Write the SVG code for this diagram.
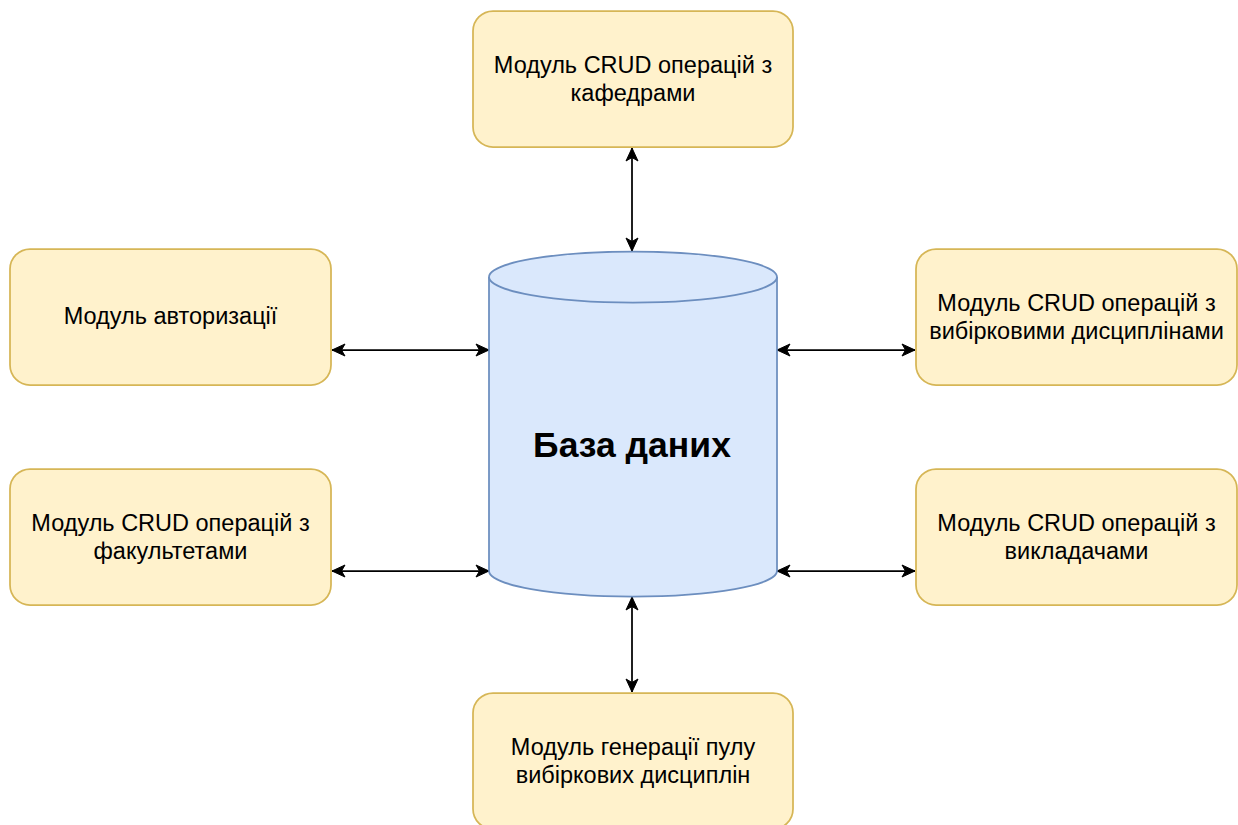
<svg xmlns="http://www.w3.org/2000/svg" width="1238" height="825" viewBox="0 0 1238 825">
  <style>
    .box { fill: #fff2cc; stroke: #d6b656; stroke-width: 1.75; }
    .db { fill: #dae8fc; stroke: #6c8ebf; stroke-width: 1.75; }
    .lbl { font-family: "Liberation Sans", Arial, sans-serif; font-size: 23.5px; fill: #000; text-anchor: middle; }
    .title { font-family: "Liberation Sans", Arial, sans-serif; font-size: 35.5px; font-weight: bold; fill: #000; text-anchor: middle; }
    .link { stroke: #000; stroke-width: 1.75; fill: none; marker-start: url(#head); marker-end: url(#head); }
  </style>
  <defs>
    <marker id="head" viewBox="-14 -7 15 14" refX="0" refY="0" markerWidth="15" markerHeight="14" markerUnits="userSpaceOnUse" orient="auto-start-reverse">
      <path d="M0,0 L-13,-6 L-9.5,0 L-13,6 Z" fill="#000" stroke="#000" stroke-width="1" stroke-linejoin="miter"/>
    </marker>
  </defs>

  <!-- connectors: every module talks to the database both ways -->
  <g id="connectors">
    <line class="link" x1="632" y1="148" x2="632" y2="251"/>
    <line class="link" x1="332" y1="350" x2="489" y2="350"/>
    <line class="link" x1="777" y1="350" x2="915" y2="350"/>
    <line class="link" x1="332" y1="571" x2="489" y2="571"/>
    <line class="link" x1="777" y1="571" x2="915" y2="571"/>
    <line class="link" x1="632" y1="597" x2="632" y2="692"/>
  </g>

  <!-- central storage -->
  <g id="database">
    <path class="db" d="M489,277 L489,571 A144,25.5 0 0 0 777,571 L777,277 A144,25.5 0 0 0 489,277 Z"/>
    <path class="db" d="M489,277 A144,25.5 0 0 0 777,277" fill="none"/>
    <text class="title" x="632" y="457">База даних</text>
  </g>

  <g id="departments">
    <rect class="box" x="473" y="11" width="320" height="136" rx="20" ry="20"/>
    <text class="lbl" x="633" y="73">Модуль CRUD операцій з</text>
    <text class="lbl" x="633" y="101">кафедрами</text>
  </g>

  <g id="auth">
    <rect class="box" x="10" y="249" width="321" height="136" rx="20" ry="20"/>
    <text class="lbl" x="170.5" y="324">Модуль авторизації</text>
  </g>

  <g id="electives">
    <rect class="box" x="916" y="249" width="321" height="136" rx="20" ry="20"/>
    <text class="lbl" x="1076.5" y="311">Модуль CRUD операцій з</text>
    <text class="lbl" x="1076.5" y="339">вибірковими дисциплінами</text>
  </g>

  <g id="faculties">
    <rect class="box" x="10" y="469" width="321" height="136" rx="20" ry="20"/>
    <text class="lbl" x="170.5" y="531">Модуль CRUD операцій з</text>
    <text class="lbl" x="170.5" y="559">факультетами</text>
  </g>

  <g id="teachers">
    <rect class="box" x="916" y="469" width="321" height="136" rx="20" ry="20"/>
    <text class="lbl" x="1076.5" y="531">Модуль CRUD операцій з</text>
    <text class="lbl" x="1076.5" y="559">викладачами</text>
  </g>

  <g id="pool">
    <rect class="box" x="473" y="693" width="320" height="136" rx="20" ry="20"/>
    <text class="lbl" x="633" y="755">Модуль генерації пулу</text>
    <text class="lbl" x="633" y="783">вибіркових дисциплін</text>
  </g>
</svg>
